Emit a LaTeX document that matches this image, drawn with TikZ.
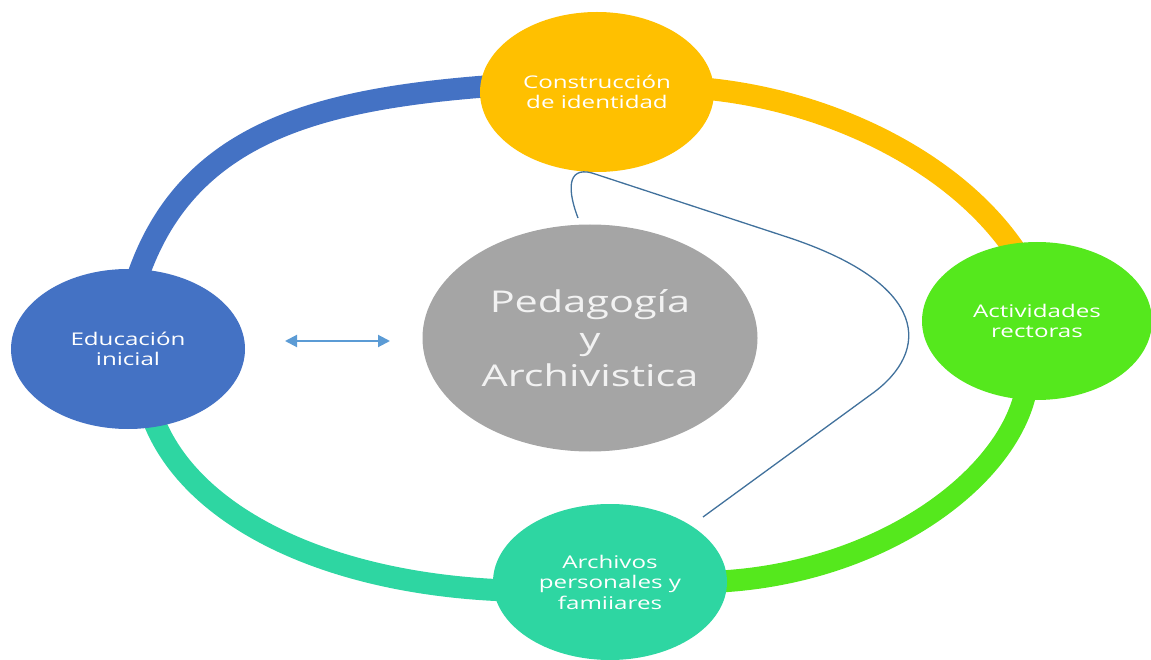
\documentclass[tikz,border=0pt]{standalone}
\usepackage{fontspec}
\setmainfont{Open Sans}[FakeStretch=1.38]
\usetikzlibrary{shapes.geometric,arrows.meta}
\definecolor{cblue}{HTML}{4472C4}
\definecolor{corange}{HTML}{FFC000}
\definecolor{cgreen}{HTML}{55E81D}
\definecolor{cteal}{HTML}{2ED6A2}
\definecolor{cgrey}{HTML}{A5A5A5}
\definecolor{cline}{HTML}{41719C}
\definecolor{carrow}{HTML}{5B9BD5}
\tikzset{
  ring/.style={line width=22pt},
  bubble/.style={ellipse, inner sep=0pt, minimum width=234pt, minimum height=160pt,
    text=white, align=center, font=\fontsize{17.5}{20.5}\selectfont},
  link/.style={cline, line width=1.3pt},
  dbl/.style={carrow, line width=2pt, {Triangle[length=12pt,width=12pt]}-{Triangle[length=12pt,width=12pt]}}
}
\begin{document}
\begin{tikzpicture}[x=1pt,y=-1pt]
\useasboundingbox (0,0) rectangle (1151,660);
\draw[ring,cblue]   (135,285) .. controls (185,125) and (330,96) .. (520,84);
\draw[ring,corange] (680,87) .. controls (810,92) and (955,155) .. (1020,258);
\draw[ring,cgreen]  (1028,375) .. controls (1022,475) and (870,588) .. (680,582);
\draw[ring,cteal]   (540,591) .. controls (340,592) and (185,520) .. (150,410);

\node[bubble, fill=corange] (ci) at (597,92) {Construcción\\de identidad};
\node[bubble, fill=cblue] (ei) at (128,349) {Educación\\inicial};
\node[bubble, fill=cgreen, minimum width=230pt, minimum height=158pt] (ar) at (1037,321) {Actividades\\rectoras};
\node[bubble, fill=cteal, minimum height=156pt] (ap) at (610,582) {Archivos\\personales y\\famiiares};
\node[bubble, fill=cgrey, minimum width=335pt, minimum height=227pt, text=white!95!black,
  font=\fontsize{30}{37}\selectfont] (pa) at (590,338) {Pedagogía\\y\\Archivistica};

\coordinate (c1) at (578,218);
\coordinate (c2) at (703,517);
\draw[link] (c1) .. controls (568,192) and (566,166) .. (592,173) -- (790,238)
  .. controls (930,285) and (930,351) .. (873,393) -- (c2);

\coordinate (a1) at (285,341);
\coordinate (a2) at (390,341);
\draw[dbl] (a1) -- (a2);
\end{tikzpicture}
\end{document}
